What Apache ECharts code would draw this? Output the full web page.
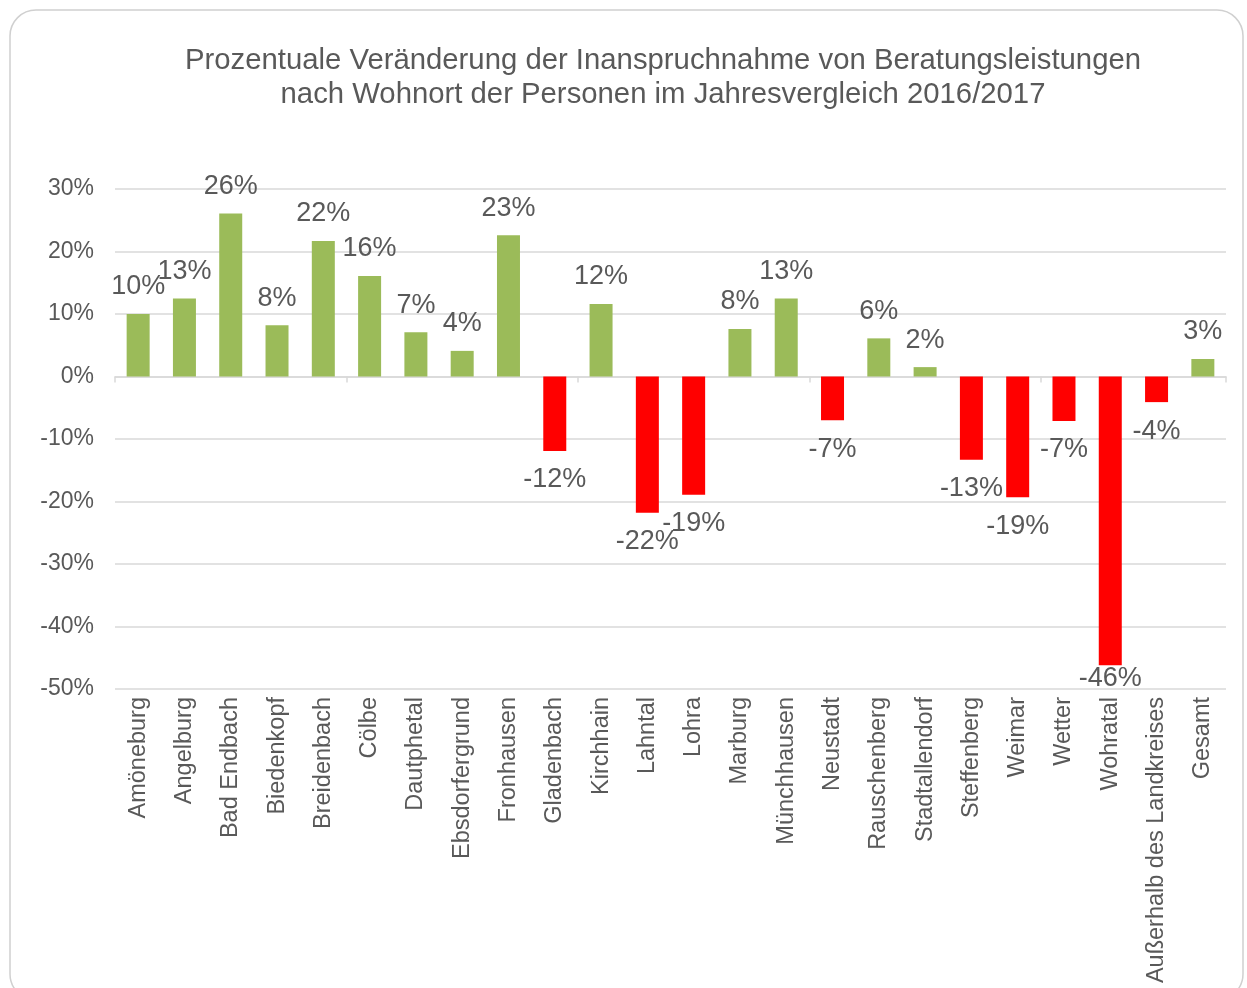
<!DOCTYPE html>
<html>
<head>
<meta charset="utf-8">
<script src="https://cdn.jsdelivr.net/npm/echarts@6/dist/echarts.min.js"></script>
<style>
  html, body { margin: 0; padding: 0; background: #fff; }
  #chart { width: 1247px; height: 988px; }
</style>
</head>
<body>
<div id="chart"></div>
<script>
// Gemeinden / Kategorien
const orte = ['Amöneburg', 'Angelburg', 'Bad Endbach', 'Biedenkopf', 'Breidenbach', 'Cölbe', 'Dautphetal',
  'Ebsdorfergrund', 'Fronhausen', 'Gladenbach', 'Kirchhain', 'Lahntal', 'Lohra', 'Marburg', 'Münchhausen',
  'Neustadt', 'Rauschenberg', 'Stadtallendorf', 'Steffenberg', 'Weimar', 'Wetter', 'Wohratal',
  'Außerhalb des Landkreises', 'Gesamt']
// Veränderung in Prozent 2016/2017
const veraenderung = [10.0, 12.5, 26.1, 8.2, 21.7, 16.1, 7.1, 4.1, 22.6, -11.9, 11.6, -21.8, -18.9, 7.6, 12.5,
  -7.0, 6.1, 1.5, -13.3, -19.3, -7.1, -46.2, -4.1, 2.8]
// y-Achse
const yTicks = [-50, -40, -30, -20, -10, 0, 10, 20, 30]

const grau = '#595959'
const schrift = 'Liberation Sans, Arial, sans-serif'

const myChart = echarts.init(document.getElementById('chart'))

const barData = veraenderung.map(function (v) {
  const neg = v < 0
  const item = {
    value: v,
    itemStyle: { color: neg ? '#FF0000' : '#9BBB59' },
    label: { position: neg ? 'bottom' : 'top', distance: neg ? 15.5 : 13.5 }
  }
  // Beschriftung bleibt innerhalb der Zeichenfläche (wie in Excel)
  if (v < yTicks[0] + 5) {
    item.label.distance = 0
  }
  return item
})

const option = {
  animation: false,
  textStyle: { fontFamily: schrift },
  graphic: [
    {
      type: 'rect',
      shape: { x: 10, y: 10, width: 1233, height: 990, r: 26 },
      style: { fill: 'none', stroke: '#d0d0d0', lineWidth: 1.5 },
      silent: true
    }
  ],
  title: {
    text: 'Prozentuale Veränderung der Inanspruchnahme von Beratungsleistungen\nnach Wohnort der Personen im Jahresvergleich 2016/2017',
    left: 658,
    top: 39,
    textAlign: 'center',
    textStyle: {
      fontFamily: schrift,
      fontSize: 29.3,
      fontWeight: 'normal',
      color: grau,
      lineHeight: 34
    }
  },
  grid: {
    left: 115,
    right: 21,
    top: 189,
    bottom: 299
  },
  xAxis: [
    {
      type: 'category',
      data: orte,
      position: 'bottom',
      axisLine: { show: false, onZero: false },
      axisTick: { show: false },
      axisLabel: {
        rotate: 90,
        margin: 8,
        interval: 0,
        fontSize: 23.5,
        color: grau,
        fontFamily: schrift
      }
    },
    {
      type: 'category',
      data: orte,
      position: 'bottom',
      axisLine: { show: true, onZero: true, lineStyle: { color: '#d9d9d9', width: 1.5 } },
      axisTick: { show: true, length: 6, lineStyle: { color: '#d9d9d9', width: 1.5 } },
      axisLabel: { show: false }
    }
  ],
  yAxis: {
    type: 'value',
    min: yTicks[0],
    max: yTicks[yTicks.length - 1],
    interval: 10,
    axisLine: { show: false },
    axisTick: { show: false },
    axisLabel: {
      formatter: '{value}%',
      margin: 21,
      fontSize: 23,
      color: grau,
      fontFamily: schrift
    },
    splitLine: { lineStyle: { color: '#d9d9d9', width: 1.5 } }
  },
  series: [
    {
      type: 'bar',
      xAxisIndex: 0,
      barWidth: 23,
      data: barData,
      label: {
        show: true,
        fontSize: 27,
        color: grau,
        fontFamily: schrift,
        formatter: function (p) {
          return Math.round(p.value) + '%'
        }
      },
      z: 3
    }
  ]
}
myChart.setOption(option)
</script>
</body>
</html>
